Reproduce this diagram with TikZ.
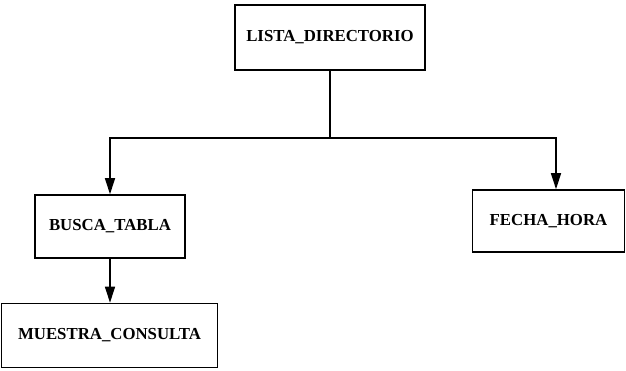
\documentclass[tikz,border=0pt]{standalone}
\usepackage{fontspec}
\setmainfont{Liberation Serif}
\usetikzlibrary{arrows.meta}
\begin{document}
\begin{tikzpicture}[x=1pt,y=1pt,
  modbox/.style={draw=black, line width=1.6pt, minimum width=#1, inner sep=0pt,
    font=\fontsize{16.8}{19}\selectfont\bfseries},
  link/.style={line width=1.6pt, -{Triangle[length=16pt,width=10pt]}}]
\useasboundingbox (0,0) rectangle (626,-371);
\node[modbox=190pt, minimum height=65pt] (top) at (330,-37.5) {LISTA\_DIRECTORIO};
\node[modbox=150pt, minimum height=63pt] (busca) at (110,-226.5) {BUSCA\_TABLA};
\node[modbox=216pt, minimum height=64pt] (muestra) at (109.5,-335.5) {MUESTRA\_CONSULTA};
\node[modbox=152pt, minimum height=62pt] (fecha) at (548.5,-221) {FECHA\_HORA};
\coordinate (j) at (330,-138);
\draw[line width=1.6pt] (top.south) -- (j);
\draw[link] (j) -| (busca.north);
\draw[link] (j) -| ([xshift=7.5pt]fecha.north);
\draw[link] (busca.south) -- (busca.south |- muestra.north);
\end{tikzpicture}
\end{document}
